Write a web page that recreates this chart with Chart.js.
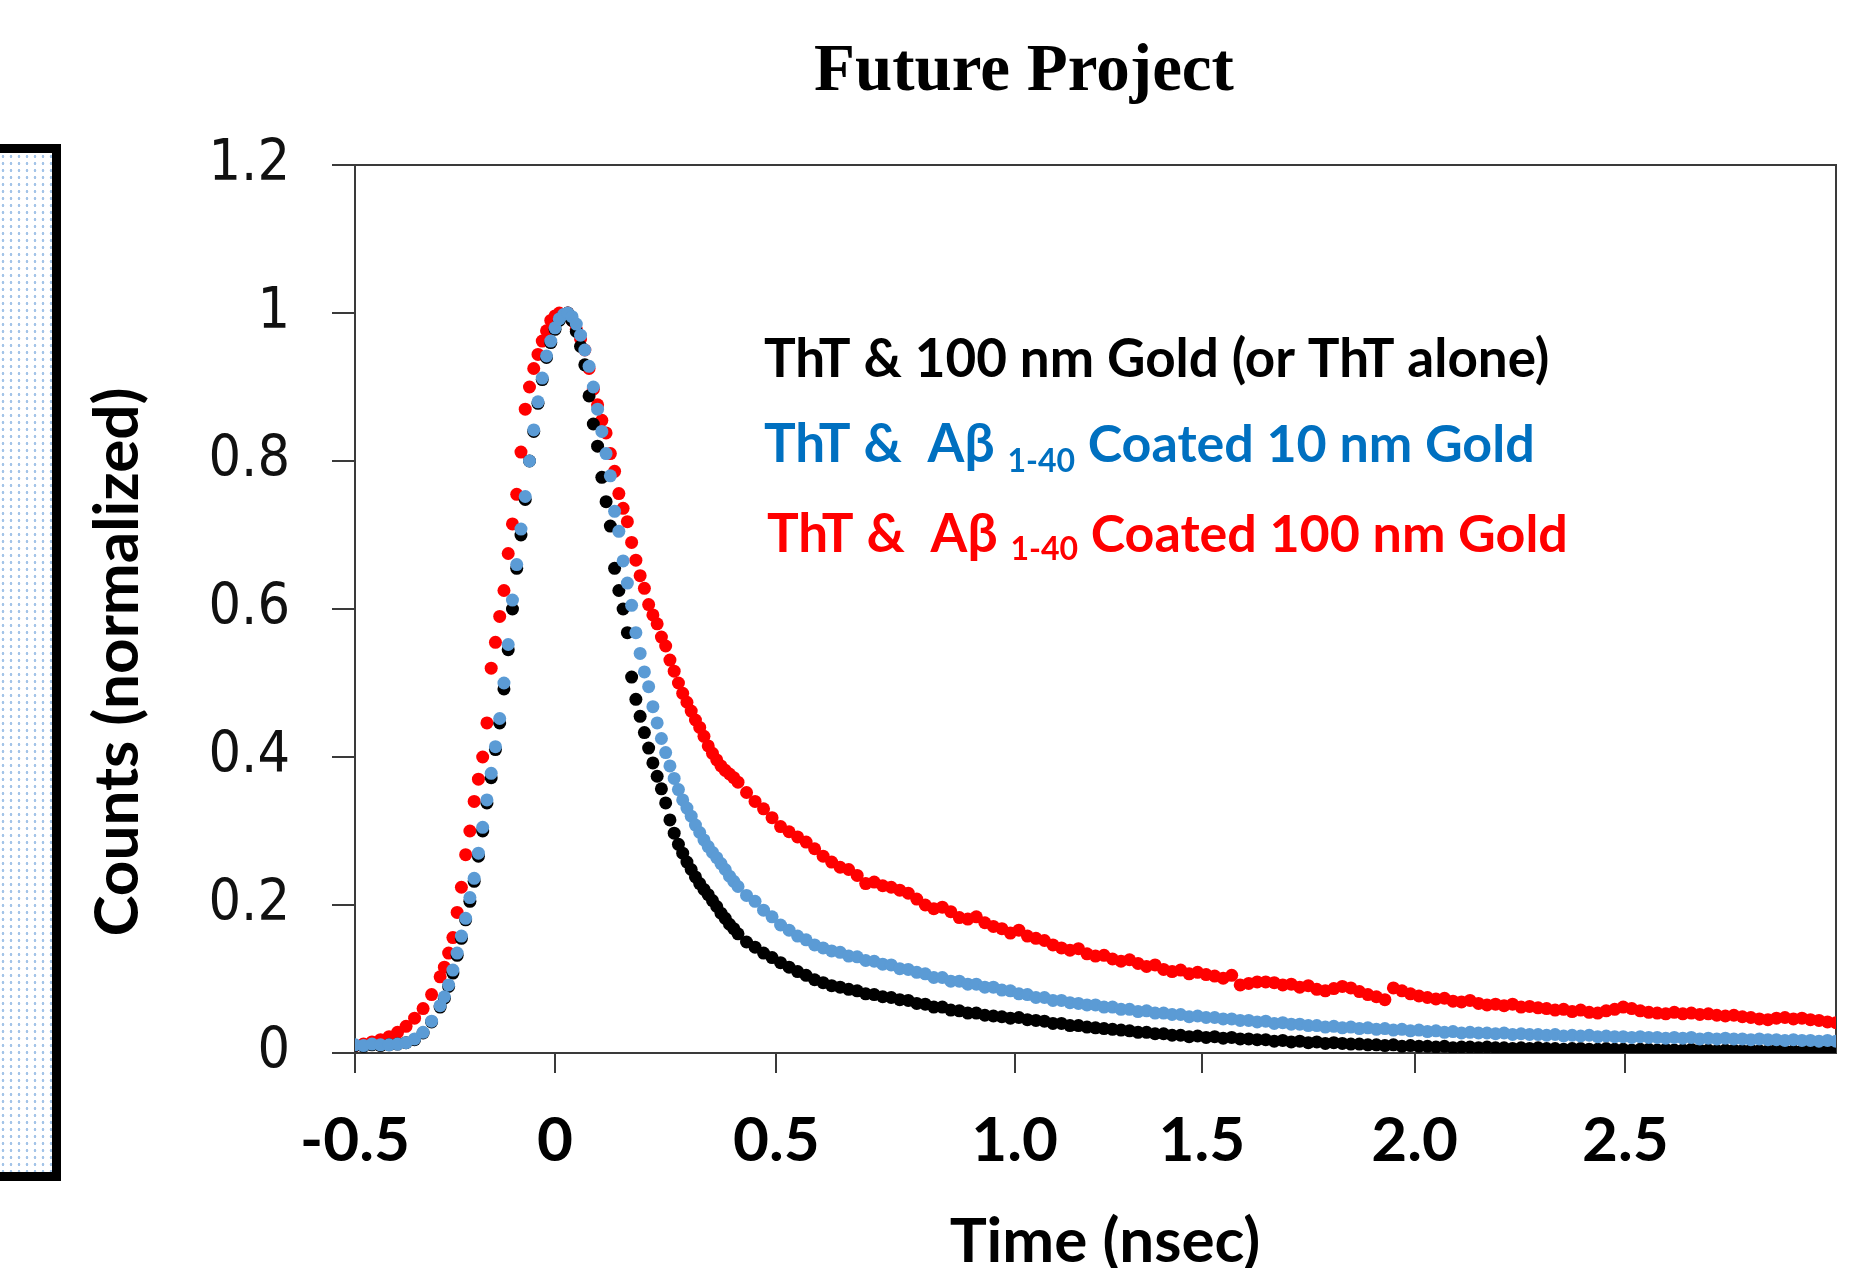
<!DOCTYPE html>
<html>
<head>
<meta charset="utf-8">
<title>Future Project</title>
<script src="https://cdn.jsdelivr.net/npm/chart.js@4.4.1/dist/chart.umd.min.js"></script>
<style>
  html, body { margin: 0; padding: 0; background: #fff; }
  #wrap { position: relative; width: 1872px; height: 1268px; overflow: hidden; }
  #decay { position: absolute; left: 0; top: 0; }
  /* cropped slide element at the left edge */
  #sideBox {
    position: absolute; left: -10px; top: 144px; width: 53px; height: 1019px;
    border: 9px solid #000;
    background-color: #fff;
    background-image: radial-gradient(circle, #a3c4e8 1.1px, transparent 1.6px);
    background-size: 8px 7px;
  }
</style>
</head>
<body>
<div id="wrap">
  <canvas id="decay" width="1872" height="1268"></canvas>
  <div id="sideBox"></div>
</div>
<script>
// time axis (ns)
var timeNs = [
  -0.5, -0.48, -0.46, -0.44, -0.42, -0.4, -0.38, -0.36, -0.34, -0.32,
  -0.3, -0.29, -0.28, -0.27, -0.26, -0.25, -0.24, -0.23, -0.22, -0.21,
  -0.2, -0.19, -0.18, -0.17, -0.16, -0.15, -0.14, -0.13, -0.12, -0.11,
  -0.1, -0.09, -0.08, -0.07, -0.06, -0.05, -0.04, -0.03, -0.02, -0.01,
  0, 0.01, 0.02, 0.03, 0.04, 0.05, 0.06, 0.07, 0.08, 0.09,
  0.1, 0.11, 0.12, 0.13, 0.14, 0.15, 0.16, 0.17, 0.18, 0.19,
  0.2, 0.21, 0.22, 0.23, 0.24, 0.25, 0.26, 0.27, 0.28, 0.29,
  0.3, 0.31, 0.32, 0.33, 0.34, 0.35, 0.36, 0.37, 0.38, 0.39,
  0.4,
  0.42, 0.44, 0.46, 0.48, 0.5, 0.52, 0.54, 0.56, 0.58, 0.6,
  0.62, 0.64, 0.66, 0.68, 0.7, 0.72, 0.74, 0.76, 0.78, 0.8,
  0.82, 0.84, 0.86, 0.88, 0.9, 0.92, 0.94, 0.96, 0.98, 1,
  1.02, 1.04, 1.06, 1.08, 1.1, 1.12, 1.14, 1.16, 1.18, 1.2,
  1.22, 1.24, 1.26, 1.28, 1.3, 1.32, 1.34, 1.36, 1.38, 1.4,
  1.42, 1.44, 1.46, 1.48, 1.5, 1.52, 1.54, 1.56, 1.58, 1.6,
  1.62, 1.64, 1.66, 1.68, 1.7, 1.72, 1.74, 1.76, 1.78, 1.8,
  1.82, 1.84, 1.86, 1.88, 1.9, 1.92, 1.94, 1.96, 1.98, 2,
  2.02, 2.04, 2.06, 2.08, 2.1, 2.12, 2.14, 2.16, 2.18, 2.2,
  2.22, 2.24, 2.26, 2.28, 2.3, 2.32, 2.34, 2.36, 2.38, 2.4,
  2.42, 2.44, 2.46, 2.48, 2.5, 2.52, 2.54, 2.56, 2.58, 2.6,
  2.62, 2.64, 2.66, 2.68, 2.7, 2.72, 2.74, 2.76, 2.78, 2.8,
  2.82, 2.84, 2.86, 2.88, 2.9, 2.92, 2.94, 2.96, 2.98
];

// ThT & 100 nm Gold (or ThT alone)
var countsThT = [
  0.010, 0.009, 0.011, 0.010, 0.011, 0.012, 0.014, 0.018, 0.027, 0.042,
  0.062, 0.074, 0.090, 0.108, 0.132, 0.155, 0.180, 0.205, 0.232, 0.266,
  0.300, 0.338, 0.372, 0.410, 0.446, 0.492, 0.545, 0.600, 0.655, 0.700,
  0.748, 0.800, 0.840, 0.878, 0.910, 0.940, 0.960, 0.978, 0.990, 0.997,
  1.000, 0.990, 0.975, 0.955, 0.930, 0.888, 0.850, 0.820, 0.778, 0.745,
  0.712, 0.655, 0.625, 0.600, 0.568, 0.508, 0.478, 0.455, 0.433, 0.412,
  0.392, 0.374, 0.357, 0.338, 0.315, 0.297, 0.282, 0.270, 0.258, 0.248,
  0.238, 0.229, 0.221, 0.214, 0.206, 0.198, 0.189, 0.182, 0.174, 0.168,
  0.161,
  0.150, 0.143, 0.135, 0.129, 0.122, 0.116, 0.110, 0.105, 0.099, 0.095,
  0.091, 0.089, 0.086, 0.084, 0.080, 0.079, 0.076, 0.075, 0.072, 0.071,
  0.067, 0.066, 0.062, 0.062, 0.058, 0.057, 0.054, 0.054, 0.051, 0.050,
  0.049, 0.047, 0.048, 0.045, 0.044, 0.043, 0.040, 0.040, 0.037, 0.037,
  0.035, 0.034, 0.033, 0.032, 0.031, 0.030, 0.028, 0.028, 0.026, 0.026,
  0.024, 0.024, 0.022, 0.023, 0.021, 0.022, 0.020, 0.021, 0.019, 0.019,
  0.018, 0.018, 0.016, 0.017, 0.015, 0.016, 0.014, 0.015, 0.013, 0.014,
  0.013, 0.012, 0.012, 0.011, 0.011, 0.010, 0.011, 0.009, 0.010, 0.009,
  0.009, 0.008, 0.009, 0.007, 0.008, 0.008, 0.007, 0.008, 0.007, 0.007,
  0.006, 0.007, 0.006, 0.007, 0.006, 0.006, 0.005, 0.006, 0.006, 0.005,
  0.005, 0.006, 0.005, 0.005, 0.004, 0.005, 0.005, 0.004, 0.005, 0.004,
  0.004, 0.005, 0.004, 0.004, 0.003, 0.004, 0.004, 0.003, 0.004, 0.003,
  0.003, 0.004, 0.003, 0.003, 0.003, 0.004, 0.003, 0.003, 0.003
];

// ThT & Abeta(1-40) coated 10 nm Gold
var counts10nm = [
  0.011, 0.010, 0.012, 0.011, 0.011, 0.012, 0.014, 0.019, 0.028, 0.043,
  0.064, 0.076, 0.092, 0.112, 0.135, 0.158, 0.182, 0.210, 0.236, 0.270,
  0.305, 0.342, 0.378, 0.414, 0.452, 0.500, 0.552, 0.612, 0.660, 0.708,
  0.752, 0.800, 0.842, 0.880, 0.912, 0.942, 0.962, 0.980, 0.992, 0.998,
  1.000, 0.995, 0.985, 0.970, 0.950, 0.928, 0.900, 0.870, 0.840, 0.810,
  0.780, 0.732, 0.705, 0.665, 0.635, 0.605, 0.568, 0.540, 0.515, 0.495,
  0.468, 0.446, 0.425, 0.406, 0.388, 0.371, 0.356, 0.342, 0.331, 0.320,
  0.308, 0.298, 0.288, 0.279, 0.271, 0.264, 0.256, 0.248, 0.239, 0.232,
  0.225,
  0.213, 0.205, 0.193, 0.184, 0.173, 0.166, 0.158, 0.153, 0.146, 0.142,
  0.138, 0.136, 0.131, 0.130, 0.125, 0.124, 0.120, 0.119, 0.114, 0.113,
  0.109, 0.107, 0.102, 0.102, 0.097, 0.097, 0.093, 0.093, 0.089, 0.089,
  0.085, 0.084, 0.080, 0.079, 0.075, 0.075, 0.071, 0.071, 0.068, 0.067,
  0.065, 0.065, 0.062, 0.062, 0.059, 0.059, 0.056, 0.057, 0.054, 0.054,
  0.052, 0.052, 0.049, 0.050, 0.048, 0.048, 0.046, 0.046, 0.044, 0.044,
  0.042, 0.043, 0.040, 0.041, 0.039, 0.039, 0.037, 0.037, 0.035, 0.036,
  0.034, 0.035, 0.033, 0.034, 0.032, 0.033, 0.031, 0.032, 0.030, 0.031,
  0.029, 0.030, 0.028, 0.029, 0.027, 0.028, 0.027, 0.027, 0.026, 0.027,
  0.025, 0.026, 0.025, 0.025, 0.024, 0.025, 0.023, 0.024, 0.023, 0.024,
  0.022, 0.023, 0.022, 0.022, 0.021, 0.022, 0.021, 0.021, 0.020, 0.021,
  0.020, 0.021, 0.019, 0.020, 0.019, 0.020, 0.019, 0.019, 0.018, 0.019,
  0.018, 0.018, 0.017, 0.018, 0.017, 0.017, 0.016, 0.017, 0.016
];

// ThT & Abeta(1-40) coated 100 nm Gold
var counts100nm = [
  0.010, 0.012, 0.015, 0.018, 0.022, 0.028, 0.036, 0.047, 0.060, 0.079,
  0.103, 0.116, 0.135, 0.156, 0.190, 0.224, 0.268, 0.300, 0.340, 0.370,
  0.400, 0.446, 0.520, 0.555, 0.590, 0.625, 0.675, 0.715, 0.755, 0.812,
  0.870, 0.900, 0.925, 0.944, 0.962, 0.976, 0.990, 0.996, 1.000, 0.998,
  1.000, 0.990, 0.978, 0.965, 0.950, 0.925, 0.897, 0.876, 0.855, 0.838,
  0.810, 0.786, 0.756, 0.736, 0.718, 0.690, 0.666, 0.645, 0.628, 0.606,
  0.592, 0.580, 0.562, 0.550, 0.531, 0.516, 0.500, 0.486, 0.474, 0.462,
  0.450, 0.440, 0.428, 0.415, 0.405, 0.396, 0.388, 0.382, 0.377, 0.372,
  0.366,
  0.352, 0.340, 0.330, 0.318, 0.306, 0.299, 0.292, 0.285, 0.276, 0.266,
  0.258, 0.251, 0.248, 0.240, 0.229, 0.231, 0.226, 0.224, 0.220, 0.216,
  0.208, 0.200, 0.195, 0.197, 0.191, 0.183, 0.181, 0.184, 0.176, 0.171,
  0.168, 0.162, 0.166, 0.158, 0.155, 0.152, 0.146, 0.142, 0.139, 0.141,
  0.134, 0.131, 0.132, 0.127, 0.124, 0.126, 0.121, 0.117, 0.119, 0.113,
  0.110, 0.112, 0.107, 0.109, 0.106, 0.104, 0.101, 0.105, 0.092, 0.094,
  0.096, 0.096, 0.095, 0.092, 0.093, 0.089, 0.091, 0.086, 0.084, 0.087,
  0.090, 0.088, 0.083, 0.079, 0.076, 0.072, 0.088, 0.084, 0.080, 0.077,
  0.075, 0.073, 0.074, 0.070, 0.069, 0.071, 0.067, 0.065, 0.066, 0.064,
  0.066, 0.062, 0.063, 0.061, 0.060, 0.058, 0.059, 0.056, 0.058, 0.055,
  0.054, 0.057, 0.059, 0.062, 0.060, 0.057, 0.055, 0.054, 0.053, 0.055,
  0.053, 0.054, 0.052, 0.053, 0.051, 0.050, 0.051, 0.049, 0.048, 0.046,
  0.045, 0.047, 0.048, 0.046, 0.047, 0.045, 0.044, 0.042, 0.041
];

// tick marks as drawn on the slide (hand placed) and their labels
var xTickValues = [-0.5, -0.03, 0.49, 1.05, 1.49, 1.99, 2.485];
var xTickLabels = ['-0.5', '0', '0.5', '1.0', '1.5', '2.0', '2.5'];
var yTickValues = [0, 0.2, 0.4, 0.6, 0.8, 1, 1.2];
var yTickLabels = ['0', '0.2', '0.4', '0.6', '0.8', '1', '1.2'];

var chartTitle = 'Future Project';
var xTitle = 'Time (nsec)';
var yTitle = 'Counts (normalized)';

// legend text as on the slide: [main, subscript, rest]
var legendRuns = [
  ['ThT & 100 nm Gold (or ThT alone)', '', ''],
  ['ThT &  A\u03b2 ', '1-40', ' Coated 10 nm Gold'],
  ['ThT &  A\u03b2 ', '1-40', ' Coated 100 nm Gold']
];

var axisColor = '#3a3a3a';

function toPoints(ys) {
    var pts = [];
    for (var i = 0; i <= timeNs.length - 1; i++) {
        pts.push({ x: timeNs[i], y: ys[i] });
    }
    return pts;
}

// frame, titles and the text legend
var slideText = {
    id: 'slideText',
    beforeDatasetsDraw: function (chart) {
        var c = chart.ctx, a = chart.chartArea;
        c.save();
        c.strokeStyle = axisColor;
        c.lineWidth = 2;
        c.strokeRect(a.left, a.top, a.right - a.left, a.bottom - a.top);
        c.restore();
    },
    afterDraw: function (chart) {
        var c = chart.ctx;
        c.save();
        c.fillStyle = '#000';
        c.textBaseline = 'alphabetic';
        c.textAlign = 'center';
        c.font = 'bold 67px "Liberation Serif", "Times New Roman", serif';
        c.fillText(chartTitle, 1024, 90);

        c.font = 'bold 62px Lato, "Open Sans", sans-serif';
        c.fillText(xTitle, 1105, 1262);

        c.save();
        c.translate(138, 662);
        c.rotate(-Math.PI / 2);
        c.font = 'bold 62px Lato, "Open Sans", sans-serif';
        c.fillText(yTitle, 0, 0);
        c.restore();

        // legend lines
        c.textAlign = 'left';
        var starts = [[764, 377], [764, 462], [767, 552]];
        var subDrop = [0, 10, 8];
        var colors = ['#000000', '#0070C0', '#FF0000'];
        for (var i = 0; i < legendRuns.length; i++) {
            var x = starts[i][0], y = starts[i][1];
            c.fillStyle = colors[i];
            c.font = 'bold 53px Lato, "Open Sans", sans-serif';
            c.fillText(legendRuns[i][0], x, y);
            x += c.measureText(legendRuns[i][0]).width;
            if (legendRuns[i][1]) {
                c.font = 'bold 32px Lato, "Open Sans", sans-serif';
                c.fillText(legendRuns[i][1], x, y + subDrop[i]);
                x += c.measureText(legendRuns[i][1]).width;
                c.font = 'bold 52px Lato, "Open Sans", sans-serif';
                c.fillText(legendRuns[i][2], x, y);
            }
        }
        c.restore();
    }
};

var ctx = document.getElementById('decay');
new Chart(ctx, {
    type: 'scatter',
    data: {
        datasets: [{
            label: 'ThT & Aβ 1-40 Coated 10 nm Gold',
            data: toPoints(counts10nm),
            backgroundColor: '#5B9BD5',
            pointRadius: 6.5,
            pointBorderWidth: 0
        }, {
            label: 'ThT & 100 nm Gold (or ThT alone)',
            data: toPoints(countsThT),
            backgroundColor: '#000000',
            pointRadius: 6.5,
            pointBorderWidth: 0
        }, {
            label: 'ThT & Aβ 1-40 Coated 100 nm Gold',
            data: toPoints(counts100nm),
            backgroundColor: '#FF0000',
            pointRadius: 6.5,
            pointBorderWidth: 0
        }]
    },
    options: {
        responsive: false,
        animation: false,
        devicePixelRatio: 1,
        layout: { padding: { left: 0, top: 165, right: 36, bottom: 0 } },
        plugins: {
            legend: { display: false },
            tooltip: { enabled: false }
        },
        scales: {
            x: {
                type: 'linear',
                min: -0.5,
                max: 2.98,
                afterFit: function (s) { s.height = 215; },
                afterBuildTicks: function (s) {
                    s.ticks = xTickValues.map(function (v) { return { value: v }; });
                },
                ticks: {
                    autoSkip: false,
                    maxRotation: 0,
                    padding: 37,
                    color: '#000',
                    font: { family: 'Lato, "Open Sans", sans-serif', size: 62, weight: 'bold', lineHeight: 1 },
                    callback: function (value, index) { return xTickLabels[index]; }
                },
                grid: { drawOnChartArea: false, drawTicks: true, tickLength: 20, color: axisColor, lineWidth: 2 },
                border: { color: axisColor, width: 2 }
            },
            y: {
                min: 0,
                max: 1.2,
                afterFit: function (s) { s.width = 355; },
                afterBuildTicks: function (s) {
                    s.ticks = yTickValues.map(function (v) { return { value: v }; });
                },
                ticks: {
                    padding: 42,
                    color: '#111',
                    font: { family: '"DejaVu Sans Condensed", "DejaVu Sans", sans-serif', size: 57 },
                    callback: function (value, index) { return yTickLabels[index]; }
                },
                grid: { drawOnChartArea: false, drawTicks: true, tickLength: 23, color: axisColor, lineWidth: 2 },
                border: { color: axisColor, width: 2 }
            }
        }
    },
    plugins: [slideText]
});
</script>
</body>
</html>
